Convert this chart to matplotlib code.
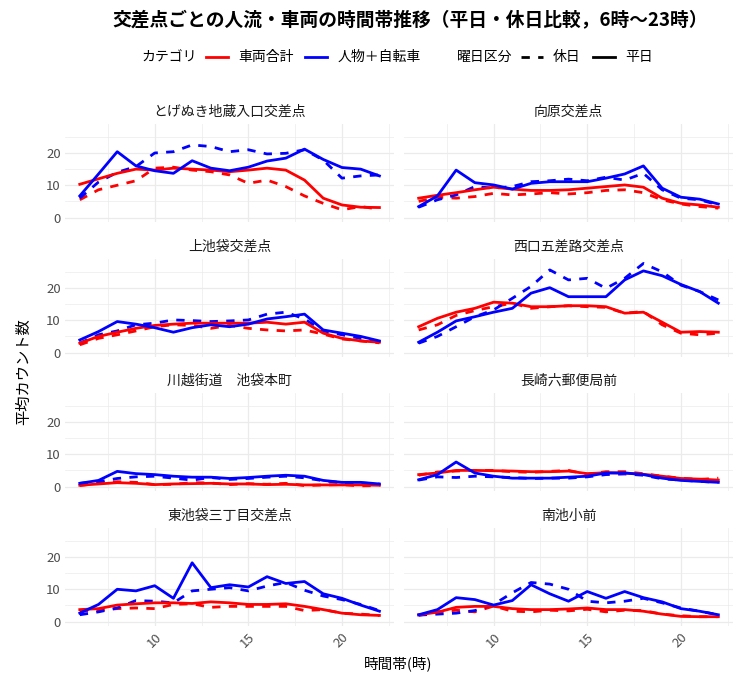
import matplotlib
matplotlib.use("Agg")
import matplotlib.pyplot as plt
from matplotlib.lines import Line2D
from matplotlib.ticker import FixedLocator

plt.rcParams['font.family'] = ['Noto Sans CJK JP', 'DejaVu Sans']

hours = list(range(6, 23))

locations = ["とげぬき地蔵入口交差点", "向原交差点", "上池袋交差点", "西口五差路交差点",
             "川越街道　池袋本町", "長崎六郵便局前", "東池袋三丁目交差点", "南池小前"]

categories = ["車両合計", "人物＋自転車"]
day_types = ["休日", "平日"]

# とげぬき地蔵入口交差点
togenuki_veh_wd = [10.3, 12.0, 13.7, 15.0, 14.7, 15.3, 15.0, 14.7, 14.2, 14.7, 15.3, 14.7, 11.6, 6.0, 3.9, 3.2, 3.1]
togenuki_veh_we = [5.5, 8.6, 10.0, 11.4, 15.3, 15.6, 14.7, 14.2, 13.2, 10.6, 11.6, 9.6, 6.7, 4.4, 2.4, 3.4, 2.6]
togenuki_ppl_wd = [6.7, 13.5, 20.4, 16.0, 14.5, 13.7, 17.6, 15.3, 14.5, 15.6, 17.5, 18.4, 21.2, 18.0, 15.5, 15.0, 12.9]
togenuki_ppl_we = [6.0, 11.0, 14.0, 15.8, 20.0, 20.4, 22.5, 22.0, 20.4, 21.0, 19.7, 19.9, 21.0, 17.8, 12.2, 12.9, 13.2]

# 向原交差点
mukohara_veh_wd = [6.0, 6.9, 7.7, 8.6, 9.4, 8.8, 8.4, 8.4, 8.6, 9.1, 9.6, 10.1, 9.4, 6.0, 4.4, 3.9, 3.2]
mukohara_veh_we = [5.0, 6.3, 6.0, 6.5, 7.5, 7.0, 7.3, 7.7, 7.3, 7.7, 8.4, 8.6, 7.7, 5.5, 4.2, 3.4, 2.9]
mukohara_ppl_wd = [3.4, 6.7, 14.7, 10.8, 10.1, 8.8, 10.6, 11.1, 11.1, 11.1, 12.2, 13.5, 16.0, 9.1, 6.3, 5.7, 4.2]
mukohara_ppl_we = [3.2, 5.5, 7.0, 9.6, 9.1, 9.6, 11.1, 11.4, 11.9, 11.4, 12.5, 11.6, 13.7, 8.6, 6.0, 5.5, 3.9]

# 上池袋交差点
kamiike_veh_wd = [2.9, 5.0, 6.3, 7.5, 8.4, 8.8, 9.1, 9.1, 9.1, 9.1, 9.4, 8.8, 9.4, 6.0, 4.4, 3.6, 3.2]
kamiike_veh_we = [2.4, 4.4, 5.5, 6.7, 8.0, 8.6, 8.4, 7.5, 8.4, 7.5, 7.0, 6.7, 7.0, 5.7, 4.2, 3.6, 3.0]
kamiike_ppl_wd = [3.9, 6.5, 9.6, 8.8, 7.7, 6.3, 7.7, 8.6, 8.0, 8.8, 10.4, 11.1, 11.9, 7.0, 6.0, 5.0, 3.6]
kamiike_ppl_we = [2.9, 5.5, 6.7, 8.6, 9.1, 10.1, 9.9, 9.6, 9.8, 10.1, 11.9, 12.5, 10.4, 6.7, 5.5, 4.4, 3.4]

# 西口五差路交差点
nishiguchi_veh_wd = [8.0, 10.6, 12.5, 13.7, 15.6, 15.3, 14.2, 14.2, 14.5, 14.5, 14.2, 12.2, 12.5, 9.4, 6.3, 6.5, 6.3]
nishiguchi_veh_we = [7.0, 8.6, 11.5, 13.0, 14.2, 15.3, 13.7, 14.2, 14.5, 14.2, 14.0, 12.2, 12.7, 8.6, 6.0, 5.5, 6.0]
nishiguchi_ppl_wd = [3.2, 6.3, 9.8, 11.1, 12.5, 13.7, 18.4, 20.1, 17.3, 17.3, 17.3, 22.5, 25.3, 23.8, 21.1, 18.9, 15.3]
nishiguchi_ppl_we = [2.9, 5.0, 8.0, 11.1, 13.2, 16.8, 20.5, 25.6, 22.5, 23.0, 19.9, 23.0, 27.6, 25.0, 20.9, 18.9, 16.3]

# 川越街道　池袋本町
kawagoe_veh_wd = [0.4, 0.8, 1.2, 1.0, 0.6, 0.8, 0.9, 1.0, 0.8, 0.8, 0.6, 0.7, 0.5, 0.5, 0.5, 0.5, 0.4]
kawagoe_veh_we = [0.3, 1.0, 1.5, 1.3, 0.6, 0.7, 1.2, 1.1, 0.6, 0.9, 0.7, 1.0, 0.3, 0.5, 0.6, 0.2, 0.3]
kawagoe_ppl_wd = [1.0, 1.9, 4.7, 4.0, 3.7, 3.2, 2.9, 2.9, 2.5, 2.8, 3.2, 3.5, 3.2, 1.9, 1.3, 1.3, 0.8]
kawagoe_ppl_we = [1.0, 1.5, 2.5, 3.0, 3.2, 2.6, 2.0, 2.8, 2.2, 2.5, 2.9, 3.2, 2.7, 1.8, 1.2, 1.1, 0.8]

# 長崎六郵便局前
nagasaki_veh_wd = [3.7, 4.2, 5.0, 5.0, 4.9, 4.8, 4.6, 4.6, 4.8, 4.0, 4.3, 4.2, 3.8, 3.2, 2.5, 2.3, 2.0]
nagasaki_veh_we = [3.5, 4.5, 4.8, 5.0, 5.0, 4.6, 4.4, 4.7, 5.0, 3.8, 4.6, 4.6, 4.0, 3.2, 2.6, 2.2, 2.6]
nagasaki_ppl_wd = [2.1, 3.7, 7.6, 4.2, 3.2, 2.6, 2.6, 2.6, 2.9, 3.2, 4.2, 4.2, 3.7, 2.6, 1.9, 1.6, 1.3]
nagasaki_ppl_we = [2.0, 3.0, 2.8, 3.2, 3.0, 2.8, 2.5, 2.6, 2.6, 3.0, 3.7, 3.9, 3.5, 2.4, 2.0, 1.6, 1.3]

# 東池袋三丁目交差点
higashi_veh_wd = [3.7, 4.0, 5.1, 5.5, 5.8, 5.8, 5.6, 6.1, 5.8, 5.3, 5.3, 5.5, 4.7, 3.7, 2.6, 2.1, 1.9]
higashi_veh_we = [3.2, 3.5, 4.0, 4.2, 4.0, 5.3, 5.5, 4.4, 4.7, 4.7, 4.7, 4.7, 3.4, 3.7, 2.6, 2.3, 1.9]
higashi_ppl_wd = [2.6, 5.3, 10.0, 9.5, 11.1, 7.2, 18.2, 10.5, 11.4, 10.7, 13.9, 11.8, 12.4, 8.6, 7.2, 5.1, 3.2]
higashi_ppl_we = [2.1, 3.0, 4.2, 6.5, 6.3, 5.8, 9.5, 10.0, 10.5, 9.5, 11.0, 12.1, 9.7, 7.9, 6.8, 5.3, 3.4]

# 南池小前
minami_veh_wd = [2.1, 2.9, 4.4, 4.7, 4.7, 4.0, 3.7, 3.7, 3.9, 4.2, 3.7, 3.7, 3.2, 2.3, 1.6, 1.5, 1.5]
minami_veh_we = [1.9, 3.0, 3.5, 3.0, 4.8, 3.2, 3.0, 3.5, 3.3, 3.8, 3.0, 3.5, 3.4, 2.3, 1.8, 1.5, 1.5]
minami_ppl_wd = [2.1, 3.7, 7.4, 6.8, 5.1, 6.5, 11.4, 8.6, 6.3, 9.3, 7.2, 9.3, 7.4, 6.1, 4.0, 3.2, 2.1]
minami_ppl_we = [2.0, 2.3, 2.6, 3.4, 5.3, 8.9, 12.1, 11.6, 10.0, 6.3, 5.8, 6.3, 7.2, 5.8, 4.2, 3.2, 2.1]

series = [
    (togenuki_veh_we, togenuki_veh_wd, togenuki_ppl_we, togenuki_ppl_wd),
    (mukohara_veh_we, mukohara_veh_wd, mukohara_ppl_we, mukohara_ppl_wd),
    (kamiike_veh_we, kamiike_veh_wd, kamiike_ppl_we, kamiike_ppl_wd),
    (nishiguchi_veh_we, nishiguchi_veh_wd, nishiguchi_ppl_we, nishiguchi_ppl_wd),
    (kawagoe_veh_we, kawagoe_veh_wd, kawagoe_ppl_we, kawagoe_ppl_wd),
    (nagasaki_veh_we, nagasaki_veh_wd, nagasaki_ppl_we, nagasaki_ppl_wd),
    (higashi_veh_we, higashi_veh_wd, higashi_ppl_we, higashi_ppl_wd),
    (minami_veh_we, minami_veh_wd, minami_ppl_we, minami_ppl_wd),
]

cat_colors = {"車両合計": "#FF0000", "人物＋自転車": "#0000FF"}
LW = 2.0
DASH = (3, 3)

W, H = 735, 689
fig = plt.figure(figsize=(W / 100, H / 100), dpi=100)

col_left = [64.8, 403.7]
panel_w = 329.6
row_top = [124, 259, 393, 528]
panel_h = 98

grid_c = "#EBEBEB"
ymin, ymax = -1.38, 28.98
for i, (loc, data) in enumerate(zip(locations, series)):
    r, c = divmod(i, 2)
    ax = fig.add_axes([col_left[c] / W, 1 - (row_top[r] + panel_h) / H, panel_w / W, panel_h / H])
    veh_we, veh_wd, ppl_we, ppl_wd = data
    ax.plot(hours, veh_we, color=cat_colors["車両合計"], lw=LW, dashes=DASH)
    ax.plot(hours, ppl_we, color=cat_colors["人物＋自転車"], lw=LW, dashes=DASH)
    ax.plot(hours, veh_wd, color=cat_colors["車両合計"], lw=LW, solid_joinstyle='round')
    ax.plot(hours, ppl_wd, color=cat_colors["人物＋自転車"], lw=LW, solid_joinstyle='round')
    ax.set_xlim(5.2, 22.8)
    ax.set_ylim(ymin, ymax)
    ax.xaxis.set_major_locator(FixedLocator([10, 15, 20]))
    ax.xaxis.set_minor_locator(FixedLocator([7.5, 12.5, 17.5, 22.5]))
    ax.yaxis.set_major_locator(FixedLocator([0, 10, 20]))
    ax.yaxis.set_minor_locator(FixedLocator([5, 15, 25]))
    ax.grid(True, which='major', color=grid_c, lw=0.9)
    ax.grid(True, which='minor', color=grid_c, lw=0.5)
    ax.set_axisbelow(True)
    for s in ax.spines.values():
        s.set_visible(False)
    ax.tick_params(which='both', length=0, labelsize=9.5, labelcolor="#4D4D4D", pad=3)
    if c == 1:
        ax.tick_params(labelleft=False)
    if r < 3:
        ax.tick_params(labelbottom=False)
    else:
        for lab in ax.get_xticklabels():
            lab.set_rotation(45)
            lab.set_ha('right')
            lab.set_rotation_mode('anchor')
    ax.set_title(loc, fontsize=10, color="#1A1A1A", pad=6)

fig.text(410 / W, 1 - 20 / H, "交差点ごとの人流・車両の時間帯推移（平日・休日比較，6時～23時）",
         ha='center', va='center', fontsize=13.5, fontweight='bold', color='black')

fig.text(24 / W, 1 - 372 / H, "平均カウント数", rotation=90, ha='center', va='center', fontsize=11)
fig.text(398 / W, 1 - 664 / H, "時間帯(時)", ha='center', va='center', fontsize=10.5)

# legend (manual, laid out by measured text widths)
ly = 1 - 57 / H
fs = 10
renderer = fig.canvas.get_renderer()
items = [
    ("text", "カテゴリ", None, False, 9),
    ("line", None, cat_colors["車両合計"], False, 10),
    ("text", categories[0], None, False, 12),
    ("line", None, cat_colors["人物＋自転車"], False, 10),
    ("text", categories[1], None, False, 36),
    ("text", "曜日区分", None, False, 9),
    ("line", None, "black", True, 10),
    ("text", day_types[0], None, False, 12),
    ("line", None, "black", False, 10),
    ("text", day_types[1], None, False, 0),
]
LINE_LEN = 22
widths = []
for kind, s, col, dashed, gap in items:
    if kind == "text":
        t = fig.text(0, 0, s, fontsize=fs)
        bb = t.get_window_extent(renderer=renderer)
        widths.append(bb.width)
        t.remove()
    else:
        widths.append(LINE_LEN)
total = sum(widths) + sum(it[4] for it in items)
x = 397 - total / 2
for (kind, s, col, dashed, gap), w in zip(items, widths):
    if kind == "text":
        fig.text(x / W, ly, s, ha='left', va='center', fontsize=fs, color='black')
    else:
        ln = Line2D([x / W, (x + w) / W], [ly, ly], transform=fig.transFigure, color=col, lw=LW)
        if dashed:
            ln.set_dashes(DASH)
        fig.add_artist(ln)
    x += w + gap

fig.savefig("out.png", dpi=100, facecolor='white')
